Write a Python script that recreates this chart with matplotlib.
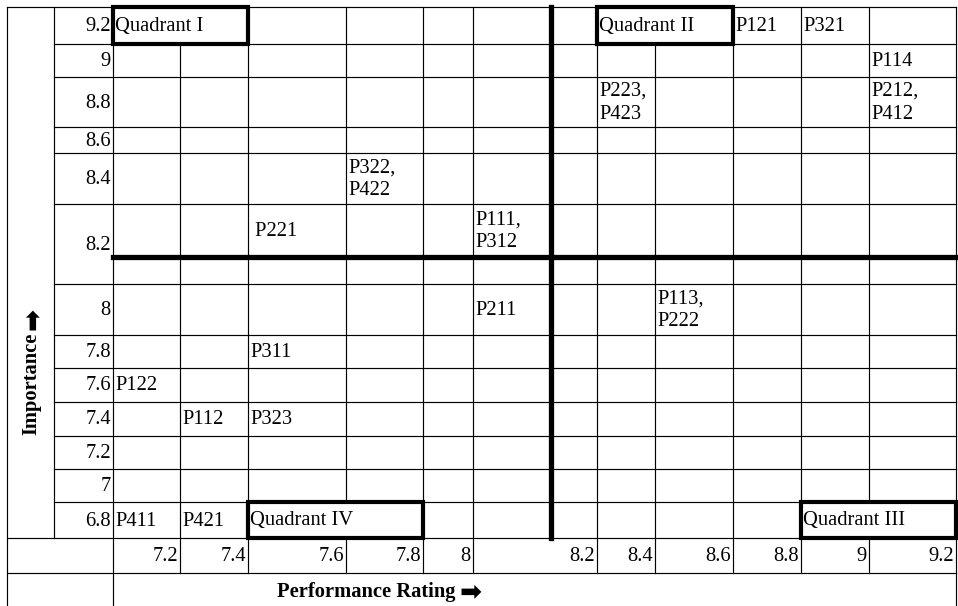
import matplotlib
matplotlib.use('Agg')
import matplotlib.pyplot as plt
from matplotlib.patches import Rectangle

plt.rcParams['font.family'] = ['Liberation Serif', 'DejaVu Sans']

# ---------------- data ----------------
importance_levels = [9.2, 9.0, 8.8, 8.6, 8.4, 8.2, None, 8.0, 7.8, 7.6, 7.4, 7.2, 7.0, 6.8]
importance_labels = ['9.2', '9', '8.8', '8.6', '8.4', '8.2', '', '8', '7.8', '7.6', '7.4', '7.2', '7', '6.8']
performance_levels = [7.2, 7.4, 7.6, 7.8, 8.0, 8.2, None, 8.4, 8.6, 8.8, 9.0, 9.2]
performance_labels = ['7.2', '7.4', '7.6', '7.8', '8', '8.2', '8.4', '8.6', '8.8', '9', '9.2']

item_names = ['P121', 'P321', 'P114', 'P223,\nP423', 'P212,\nP412', 'P322,\nP422',
              ' P221', 'P111,\nP312', 'P211', 'P113,\nP222', 'P311', 'P122',
              'P112', 'P323', 'P411', 'P421']
item_performance = [8.8, 9.0, 9.2, 8.4, 9.2, 7.8, 7.6, 8.2, 8.2, 8.6, 7.6, 7.2, 7.4, 7.6, 7.2, 7.4]
item_importance = [9.2, 9.2, 9.0, 8.8, 8.8, 8.4, 8.2, 8.2, 8.0, 8.0, 7.8, 7.6, 7.4, 7.4, 6.8, 6.8]

quadrant_names = ['Quadrant I', 'Quadrant II', 'Quadrant III', 'Quadrant IV']
quadrant_perf_from = [7.2, 8.4, 9.0, 7.6]
quadrant_perf_to = [7.4, 8.6, 9.2, 7.8]
quadrant_importance = [9.2, 9.2, 6.8, 6.8]

x_title = 'Performance Rating'
y_title = 'Importance'
arrow = '\u27A1'

# ---------------- layout (pixels) ----------------
W, H = 958, 606
col_edges = [113, 180, 248, 346, 423, 473, 551, 597, 655, 733, 801, 869, 956]
row_edges = [7, 44, 77, 127, 153, 204, 257, 284, 335, 368, 402, 436, 469, 502, 538]
left, lab_col, right = 7, 54, 956
xlab_bottom = 573
FS = 14.8
THIN = 0.85
THICK = 3.8
BOX = 3.0
K = 'black'

fig = plt.figure(figsize=(W / 100, H / 100), dpi=100)
ax = fig.add_axes([0, 0, 1, 1])
ax.set_xlim(0, W)
ax.set_ylim(H, 0)
ax.axis('off')


def seg(x0, y0, x1, y1, lw=THIN):
    ax.plot([x0, x1], [y0, y1], color=K, lw=lw, solid_capstyle='projecting')


def col_index(v):
    return performance_levels.index(v)


def row_index(v):
    return importance_levels.index(v)


divider_col = performance_levels.index(None)
divider_row = importance_levels.index(None)

# merged cells (quadrant boxes): (row, first col, last col)
merged = []
for f, t, imp in zip(quadrant_perf_from, quadrant_perf_to, quadrant_importance):
    merged.append((row_index(imp), col_index(f), col_index(t)))

# outer borders
seg(left, row_edges[0], right, row_edges[0])
seg(left, row_edges[0], left, H)
seg(right, row_edges[0], right, H)
seg(left, row_edges[-1], right, row_edges[-1])
seg(left, xlab_bottom, right, xlab_bottom)
seg(lab_col, row_edges[0], lab_col, row_edges[-1])
seg(col_edges[0], row_edges[0], col_edges[0], H)

# interior horizontal lines
for i in range(1, len(row_edges) - 1):
    y = row_edges[i]
    if i == divider_row:
        continue
    seg(lab_col, y, right, y)

# interior vertical lines, per body row
for r in range(len(row_edges) - 1):
    y0, y1 = row_edges[r], row_edges[r + 1]
    for c in range(1, len(col_edges) - 1):
        if c == divider_col:
            continue
        skip = False
        for (mr, c0, c1) in merged:
            if mr == r and c0 < c <= c1:
                skip = True
        if not skip:
            seg(col_edges[c], y0, col_edges[c], y1)

# x-label row vertical lines
xlab_edges = [e for i, e in enumerate(col_edges) if i != divider_col]
for e in xlab_edges[1:-1]:
    seg(e, row_edges[-1], e, xlab_bottom)

# thick quadrant dividers
seg(col_edges[divider_col], row_edges[0], col_edges[divider_col], row_edges[-1], lw=THICK)
seg(col_edges[0], row_edges[divider_row], right, row_edges[divider_row], lw=THICK)

# quadrant boxes + names
for name, (mr, c0, c1) in zip(quadrant_names, merged):
    x0, x1 = col_edges[c0], col_edges[c1 + 1]
    y0, y1 = row_edges[mr], row_edges[mr + 1]
    ax.add_patch(Rectangle((x0, y0), x1 - x0, y1 - y0, fill=False, ec=K, lw=BOX, zorder=5))
    ax.text(x0 + 2, (y0 + y1) / 2 + 1, name, ha='left', va='center', fontsize=FS)

# row labels (importance)
for r, lab in enumerate(importance_labels):
    if not lab:
        continue
    y0, y1 = row_edges[r], row_edges[r + 1]
    if r + 1 == divider_row:
        y1 = row_edges[r + 2]
    ax.text(col_edges[0] - 2, (y0 + y1) / 2 + 1, lab, ha='right', va='center', fontsize=FS)

# column labels (performance)
for i, lab in enumerate(performance_labels):
    ax.text(xlab_edges[i + 1] - 2, (row_edges[-1] + xlab_bottom) / 2 + 1, lab,
            ha='right', va='center', fontsize=FS)

# items
for name, p, imp in zip(item_names, item_performance, item_importance):
    c, r = col_index(p), row_index(imp)
    x = col_edges[c] + 2
    y = (row_edges[r] + row_edges[r + 1]) / 2 + 1
    ax.text(x, y, name, ha='left', va='center', fontsize=FS, linespacing=1.28)

# axis titles with heavy arrows
tx = ax.text(277, (xlab_bottom + H) / 2 + 2, x_title, ha='left', va='center',
             fontsize=FS, fontweight='bold')
ax.annotate(arrow, xy=(1, 0.45), xycoords=tx, xytext=(3, 0), textcoords='offset points',
            ha='left', va='center', fontsize=19, fontweight='bold', family='DejaVu Sans')

ty = ax.text((left + lab_col) / 2 + 1, 435, y_title, ha='center', va='bottom',
             rotation=90, fontsize=FS, fontweight='bold')
ax.annotate(arrow, xy=(0.55, 1), xycoords=ty, xytext=(0, 2), textcoords='offset points',
            ha='center', va='bottom', rotation=90, fontsize=19, fontweight='bold',
            family='DejaVu Sans')

fig.savefig('out.png', dpi=100, facecolor='white')
